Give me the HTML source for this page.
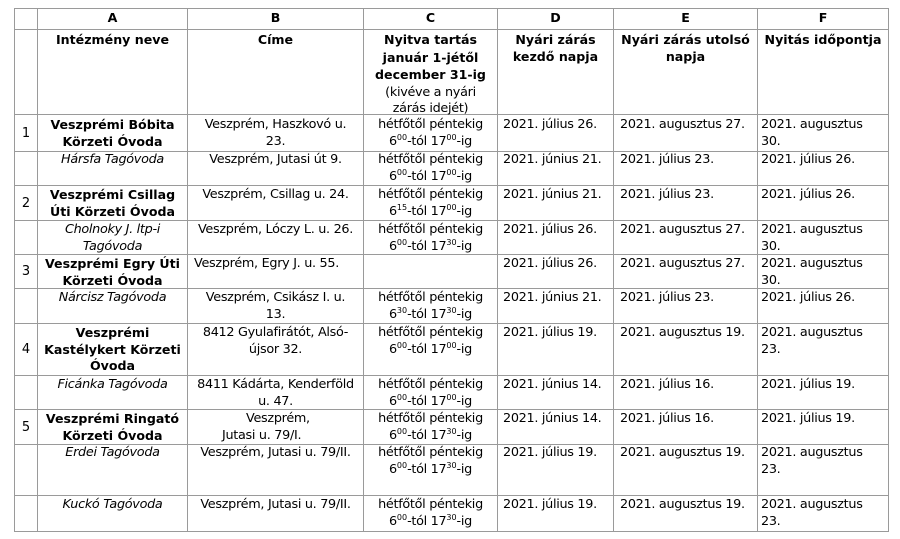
<!DOCTYPE html>
<html><head><meta charset="utf-8">
<style>
body{margin:0;background:#fff;}
#p{position:relative;width:900px;height:539px;overflow:hidden;background:#fff;font-family:"DejaVu Sans","Liberation Sans",sans-serif;font-size:12.8px;letter-spacing:-0.3px;color:#000;}
.h{position:absolute;left:14px;width:875px;height:1px;background:#9a9a9a}
.v{position:absolute;top:8px;height:524px;width:1px;background:#9a9a9a}
.t{position:absolute;line-height:16.6px;white-space:nowrap}
.b{font-weight:bold;font-size:12.6px;letter-spacing:0}
.i{font-style:italic}
.n{left:15px;width:22px;text-align:center;display:flex;align-items:center;justify-content:center;position:absolute;font-size:13px;letter-spacing:0}
.A{left:38px;width:149px;text-align:center}
.B{left:188px;width:175px;text-align:center}
.C{left:364px;width:133px;text-align:center}
.D{left:503px;width:110px}
.E{left:620px;width:137px}
.F{left:761px;width:127px}
.Dc{left:498px;width:115px;text-align:center}
.Ec{left:614px;width:143px;text-align:center}
.Fc{left:758px;width:130px;text-align:center}
sup{font-size:8px;vertical-align:5px;line-height:0;letter-spacing:0}
</style></head><body><div id="p">
<div class="h" style="top:8px"></div>
<div class="h" style="top:29px"></div>
<div class="h" style="top:114px"></div>
<div class="h" style="top:151px"></div>
<div class="h" style="top:185px"></div>
<div class="h" style="top:220px"></div>
<div class="h" style="top:254px"></div>
<div class="h" style="top:288px"></div>
<div class="h" style="top:323px"></div>
<div class="h" style="top:375px"></div>
<div class="h" style="top:409px"></div>
<div class="h" style="top:444px"></div>
<div class="h" style="top:495px"></div>
<div class="h" style="top:531px"></div>
<div class="v" style="left:14px"></div>
<div class="v" style="left:37px"></div>
<div class="v" style="left:187px"></div>
<div class="v" style="left:363px"></div>
<div class="v" style="left:497px"></div>
<div class="v" style="left:613px"></div>
<div class="v" style="left:757px"></div>
<div class="v" style="left:888px"></div>

<div class="t b A" style="top:10px">A</div>
<div class="t b B" style="top:10px">B</div>
<div class="t b C" style="top:10px">C</div>
<div class="t b Dc" style="top:10px">D</div>
<div class="t b Ec" style="top:10px">E</div>
<div class="t b Fc" style="top:10px">F</div>

<div class="t b A" style="top:32px">Intézmény neve</div>
<div class="t b B" style="top:32px">Címe</div>
<div class="t C" style="top:32px"><span class="b">Nyitva tartás<br>január 1-jétől<br>december 31-ig</span><br>(kivéve a nyári<br>zárás idejét)</div>
<div class="t b Dc" style="top:32px">Nyári zárás<br>kezdő napja</div>
<div class="t b Ec" style="top:32px">Nyári zárás utolsó<br>napja</div>
<div class="t b Fc" style="top:32px">Nyitás időpontja</div>

<div class="n" style="top:115px;height:36px">1</div>
<div class="t b A" style="top:117px">Veszprémi Bóbita<br>Körzeti Óvoda</div>
<div class="t B" style="top:117px">Veszprém, Haszkovó u.<br>23.</div>
<div class="t C" style="top:117px">hétfőtől péntekig<br>6<sup>00</sup>-tól 17<sup>00</sup>-ig</div>
<div class="t D" style="top:117px">2021. július 26.</div>
<div class="t E" style="top:117px">2021. augusztus 27.</div>
<div class="t F" style="top:117px">2021. augusztus<br>30.</div>

<div class="t i A" style="top:152px">Hársfa Tagóvoda</div>
<div class="t B" style="top:152px">Veszprém, Jutasi út 9.</div>
<div class="t C" style="top:152px">hétfőtől péntekig<br>6<sup>00</sup>-tól 17<sup>00</sup>-ig</div>
<div class="t D" style="top:152px">2021. június 21.</div>
<div class="t E" style="top:152px">2021. július 23.</div>
<div class="t F" style="top:152px">2021. július 26.</div>

<div class="n" style="top:186px;height:34px">2</div>
<div class="t b A" style="top:187px">Veszprémi Csillag<br>Úti Körzeti Óvoda</div>
<div class="t B" style="top:187px">Veszprém, Csillag u. 24.</div>
<div class="t C" style="top:187px">hétfőtől péntekig<br>6<sup>15</sup>-tól 17<sup>00</sup>-ig</div>
<div class="t D" style="top:187px">2021. június 21.</div>
<div class="t E" style="top:187px">2021. július 23.</div>
<div class="t F" style="top:187px">2021. július 26.</div>

<div class="t i A" style="top:222px">Cholnoky J. ltp-i<br>Tagóvoda</div>
<div class="t B" style="top:222px">Veszprém, Lóczy L. u. 26.</div>
<div class="t C" style="top:222px">hétfőtől péntekig<br>6<sup>00</sup>-tól 17<sup>30</sup>-ig</div>
<div class="t D" style="top:222px">2021. július 26.</div>
<div class="t E" style="top:222px">2021. augusztus 27.</div>
<div class="t F" style="top:222px">2021. augusztus<br>30.</div>

<div class="n" style="top:255px;height:33px">3</div>
<div class="t b A" style="top:256px">Veszprémi Egry Úti<br>Körzeti Óvoda</div>
<div class="t" style="top:256px;left:194px">Veszprém, Egry J. u. 55.</div>
<div class="t D" style="top:256px">2021. július 26.</div>
<div class="t E" style="top:256px">2021. augusztus 27.</div>
<div class="t F" style="top:256px">2021. augusztus<br>30.</div>

<div class="t i A" style="top:290px">Nárcisz Tagóvoda</div>
<div class="t B" style="top:290px">Veszprém, Csikász I. u.<br>13.</div>
<div class="t C" style="top:290px">hétfőtől péntekig<br>6<sup>30</sup>-tól 17<sup>30</sup>-ig</div>
<div class="t D" style="top:290px">2021. június 21.</div>
<div class="t E" style="top:290px">2021. július 23.</div>
<div class="t F" style="top:290px">2021. július 26.</div>

<div class="n" style="top:324px;height:51px">4</div>
<div class="t b A" style="top:325px">Veszprémi<br>Kastélykert Körzeti<br>Óvoda</div>
<div class="t B" style="top:325px">8412 Gyulafirátót, Alsó-<br>újsor 32.</div>
<div class="t C" style="top:325px">hétfőtől péntekig<br>6<sup>00</sup>-tól 17<sup>00</sup>-ig</div>
<div class="t D" style="top:325px">2021. július 19.</div>
<div class="t E" style="top:325px">2021. augusztus 19.</div>
<div class="t F" style="top:325px">2021. augusztus<br>23.</div>

<div class="t i A" style="top:377px">Ficánka Tagóvoda</div>
<div class="t B" style="top:377px">8411 Kádárta, Kenderföld<br>u. 47.</div>
<div class="t C" style="top:377px">hétfőtől péntekig<br>6<sup>00</sup>-tól 17<sup>00</sup>-ig</div>
<div class="t D" style="top:377px">2021. június 14.</div>
<div class="t E" style="top:377px">2021. július 16.</div>
<div class="t F" style="top:377px">2021. július 19.</div>

<div class="n" style="top:410px;height:34px">5</div>
<div class="t b A" style="top:411px">Veszprémi Ringató<br>Körzeti Óvoda</div>
<div class="t" style="top:411px;left:246px">Veszprém,</div>
<div class="t" style="top:427.6px;left:222px">Jutasi u. 79/I.</div>
<div class="t C" style="top:411px">hétfőtől péntekig<br>6<sup>00</sup>-tól 17<sup>30</sup>-ig</div>
<div class="t D" style="top:411px">2021. június 14.</div>
<div class="t E" style="top:411px">2021. július 16.</div>
<div class="t F" style="top:411px">2021. július 19.</div>

<div class="t i A" style="top:445px">Erdei Tagóvoda</div>
<div class="t B" style="top:445px">Veszprém, Jutasi u. 79/II.</div>
<div class="t C" style="top:445px">hétfőtől péntekig<br>6<sup>00</sup>-tól 17<sup>30</sup>-ig</div>
<div class="t D" style="top:445px">2021. július 19.</div>
<div class="t E" style="top:445px">2021. augusztus 19.</div>
<div class="t F" style="top:445px">2021. augusztus<br>23.</div>

<div class="t i A" style="top:497px">Kuckó Tagóvoda</div>
<div class="t B" style="top:497px">Veszprém, Jutasi u. 79/II.</div>
<div class="t C" style="top:497px">hétfőtől péntekig<br>6<sup>00</sup>-tól 17<sup>30</sup>-ig</div>
<div class="t D" style="top:497px">2021. július 19.</div>
<div class="t E" style="top:497px">2021. augusztus 19.</div>
<div class="t F" style="top:497px">2021. augusztus<br>23.</div>
</div></body></html>
